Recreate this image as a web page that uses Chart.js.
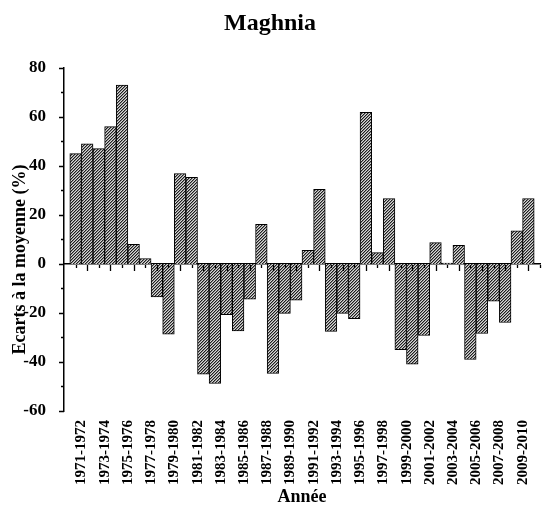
<!DOCTYPE html>
<html>
<head>
<meta charset="utf-8">
<title>Maghnia</title>
<script src="https://cdn.jsdelivr.net/npm/chart.js@4.4.0/dist/chart.umd.min.js"></script>
<style>
  html, body { margin: 0; padding: 0; background: #fff; }
  #wrap { width: 544px; height: 506px; }
</style>
</head>
<body>
<div id="wrap"><canvas id="chart" width="544" height="506"></canvas></div>
<script>
// Seasons (hydrological years)
const seasons = [
    '1971-1972', '1972-1973', '1973-1974', '1974-1975', '1975-1976', '1976-1977', '1977-1978', '1978-1979',
    '1979-1980', '1980-1981', '1981-1982', '1982-1983', '1983-1984', '1984-1985', '1985-1986', '1986-1987',
    '1987-1988', '1988-1989', '1989-1990', '1990-1991', '1991-1992', '1992-1993', '1993-1994', '1994-1995',
    '1995-1996', '1996-1997', '1997-1998', '1998-1999', '1999-2000', '2000-2001', '2001-2002', '2002-2003',
    '2003-2004', '2004-2005', '2005-2006', '2006-2007', '2007-2008', '2008-2009', '2009-2010', '2010-2011'
];

// Deviation from the mean (%)
const ecarts = [
    45, 49, 47, 56, 73, 8, 2.2, -13.5,
    -28.7, 36.9, 35.3, -45, -48.8, -20.7, -27.3, -14.4,
    16.1, -44.7, -20.2, -14.8, 5.5, 30.4, -27.5, -20.2,
    -22.3, 61.8, 4.6, 26.7, -35, -40.9, -29.2, 8.7,
    0.3, 7.6, -39, -28.4, -15.2, -23.9, 13.5, 26.7
];

const yMin = -60;
const yMax = 80;
const yStep = 20;

const serif = '"Liberation Serif", "Times New Roman", serif';
const canvas = document.getElementById('chart');
const ctx = canvas.getContext('2d');

// Diagonal hatch fill for the bars
function makeHatch() {
    const tile = document.createElement('canvas');
    tile.width = 3;
    tile.height = 3;
    const g = tile.getContext('2d');
    const img = g.createImageData(3, 3);
    const shades = [30, 135, 215];
    for (let y = 0; y < 3; y++) {
        for (let x = 0; x < 3; x++) {
            const s = shades[(x + y) % 3];
            const i = (y * 3 + x) * 4;
            img.data[i] = img.data[i + 1] = img.data[i + 2] = s;
            img.data[i + 3] = 255;
        }
    }
    g.putImageData(img, 0, 0);
    return ctx.createPattern(tile, 'repeat');
}

// no side padding on the horizontal axes, so the plot starts right at the y axis
function noSidePadding(s) {
    s.paddingLeft = 0;
    s.paddingRight = 0;
}

// Tick marks (major/minor) and the vertical axis title
const axisMarks = {
    id: 'axisMarks',
    afterDraw(chart) {
        const { ctx, chartArea } = chart;
        const x = chart.scales.x;
        const y = chart.scales.y;
        ctx.save();
        ctx.strokeStyle = '#000';
        ctx.lineWidth = 1.3;
        ctx.beginPath();
        for (let v = yMin; v <= yMax; v += 10) {
            const py = Math.round(y.getPixelForValue(v)) + 0.5;
            const len = v % 20 === 0 ? 5 : 3;
            ctx.moveTo(chartArea.left, py);
            ctx.lineTo(chartArea.left - len, py);
        }
        const y0 = y.getPixelForValue(0);
        for (let i = 1; i <= seasons.length + 1; i++) {
            const px = Math.round(x.getPixelForValue(i)) + 0.5;
            const len = i % 2 === 0 ? 6 : 3;
            ctx.moveTo(px, y0 + 1);
            ctx.lineTo(px, y0 + 1 + len);
        }
        ctx.stroke();

        ctx.fillStyle = '#000';
        ctx.font = 'bold 18px ' + serif;
        ctx.textAlign = 'center';
        ctx.textBaseline = 'middle';
        ctx.translate(20, (chartArea.top + chartArea.bottom) / 2 + 20);
        ctx.rotate(-Math.PI / 2);
        ctx.fillText('Ecarts à la moyenne (%)', 0, 0);
        ctx.restore();
    }
};

new Chart(ctx, {
    type: 'bar',
    data: {
        datasets: [{
            data: ecarts.map((v, i) => ({ x: i + 1, y: v })),
            backgroundColor: makeHatch(),
            borderColor: '#000',
            borderWidth: 1,
            barPercentage: 1,
            categoryPercentage: 1,
            xAxisID: 'x',
            yAxisID: 'y'
        }]
    },
    options: {
        responsive: false,
        animation: false,
        layout: { padding: { left: 0, right: 4, top: 0, bottom: 0 } },
        plugins: {
            legend: { display: false },
            tooltip: { enabled: false },
            title: {
                display: true,
                text: 'Maghnia',
                color: '#000',
                font: { family: serif, size: 24, weight: 'bold' },
                padding: { top: 9, bottom: 30 }
            }
        },
        scales: {
            // zero line carrying the bars
            x: {
                type: 'linear',
                axis: 'x',
                position: { y: 0 },
                offset: false,
                min: 0,
                max: seasons.length + 1,
                grid: { display: false, offset: false },
                ticks: { display: false },
                border: { display: true, color: '#000', width: 1.5 },
                afterFit: s => { s.height = 0; noSidePadding(s); }
            },
            // season labels along the bottom
            x2: {
                type: 'linear',
                axis: 'x',
                position: 'bottom',
                offset: false,
                min: 0,
                max: seasons.length + 1,
                afterBuildTicks: s => {
                    s.ticks = seasons.map((_, i) => ({ value: i + 1 })).filter((_, i) => i % 2 === 0);
                },
                grid: { display: false, offset: false },
                border: { display: false },
                ticks: {
                    autoSkip: false,
                    minRotation: 90,
                    maxRotation: 90,
                    padding: 1,
                    labelOffset: 6,
                    color: '#000',
                    font: { family: serif, size: 15, weight: 'bold' },
                    callback: v => seasons[v - 1]
                },
                title: {
                    display: true,
                    text: 'Année',
                    color: '#000',
                    font: { family: serif, size: 18, weight: 'bold', lineHeight: 1 },
                    padding: { top: 0, bottom: 0 }
                },
                afterFit: s => { s.height = 95; noSidePadding(s); }
            },
            y: {
                min: yMin,
                max: yMax,
                grid: { display: false },
                border: { display: true, color: '#000', width: 1.5 },
                ticks: {
                    stepSize: yStep,
                    padding: 10,
                    color: '#000',
                    font: { family: serif, size: 17, weight: 'bold' }
                },
                afterFit: s => { s.width = 64; }
            }
        }
    },
    plugins: [axisMarks]
});
</script>
</body>
</html>
